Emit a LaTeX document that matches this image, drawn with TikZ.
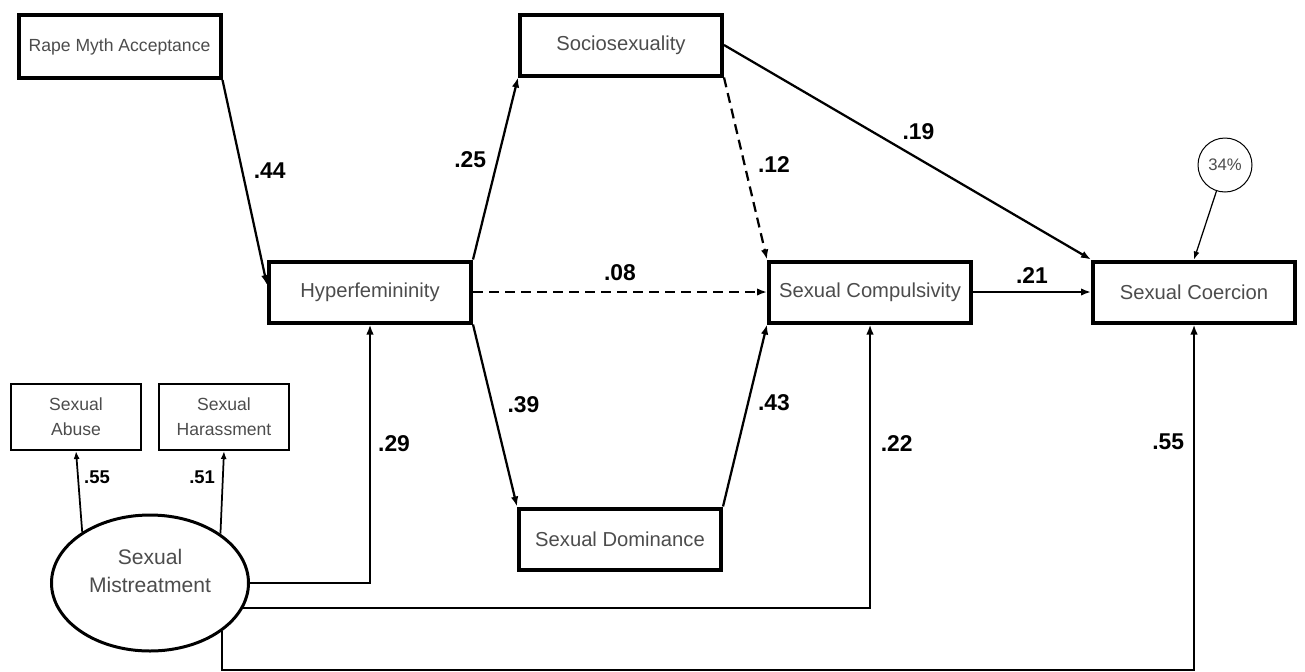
\documentclass[tikz,border=0pt]{standalone}
\usepackage{fontspec}
\setmainfont{Liberation Sans}
\usetikzlibrary{arrows.meta}
\usetikzlibrary{positioning}
\usetikzlibrary{shapes.geometric}

\begin{document}
\begin{tikzpicture}[
        bigbox/.style={draw, line width=0.08cm, minimum width=4.04cm, minimum height=1.22cm, inner sep=0pt, text=black!70, font=\fontsize{11.5}{13}\selectfont},
        smallbox/.style={draw, line width=0.04cm, minimum width=2.6cm, minimum height=1.32cm, inner sep=0pt, align=center, text=black!70, font=\fontsize{10}{14}\selectfont},
        latent/.style={ellipse, draw, line width=0.06cm, minimum width=3.94cm, minimum height=2.72cm, inner sep=0pt, align=center, text=black!70, font=\fontsize{12}{16}\selectfont},
        resid/.style={circle, draw, line width=0.02cm, minimum size=1.08cm, inner sep=0pt, text=black!70, font=\fontsize{9.5}{11}\selectfont},
        arr/.style={-{Latex[length=2mm,width=1.5mm]}, line width=0.045cm},
        thin arr/.style={-{Latex[length=1.6mm,width=1.2mm]}, line width=0.035cm},
        ns/.style={dash pattern=on 2mm off 1.2mm},
        coef/.style={font=\bfseries\fontsize{13}{13}\selectfont, inner sep=2pt},
        small coef/.style={font=\bfseries\fontsize{10.5}{11}\selectfont, inner sep=2pt}
    ]
    \useasboundingbox (0,0) rectangle (26.10,-13.42);

    \node[bigbox] (hyp) at (7.40,-5.84) {Hyperfemininity};
    \node[bigbox] (comp) [right=5.88cm of hyp] {Sexual Compulsivity};
    \node[bigbox] (coer) [right=2.36cm of comp] {Sexual Coercion};
    \node[bigbox, minimum height=1.26cm, font=\fontsize{10}{12}\selectfont] (rma) at (2.39,-0.93) {Rape Myth Acceptance};
    \node[bigbox] (soc) at (12.42,-0.90) {Sociosexuality};
    \node[bigbox] (dom) at (12.40,-10.78) {Sexual Dominance};
    \node[smallbox] (abuse) at (1.52,-8.34) {Sexual\\Abuse};
    \node[smallbox] (harass) [right=0.32cm of abuse] {Sexual\\Harassment};
    \node[latent] (mis) at (3.00,-11.66) {Sexual\\Mistreatment\\[-2.4pt]\mbox{}};
    \node[resid] (rsq) at (24.50,-3.30) {34\%};
    \coordinate (low) at (0,-13.40);

    \path[arr]
        (rma.south east) edge node[coef, right=4pt, pos=0.44] {.44} ([yshift=0.14cm]hyp.west)
        (hyp.north east) edge node[coef, left=4pt, pos=0.55] {.25} (soc.south west)
        (hyp.south east) edge node[coef, right=6pt, pos=0.44] {.39} (dom.north west)
        (dom.north east) edge node[coef, right=3pt, pos=0.57] {.43} (comp.south west)
        (soc.south east) edge[ns] node[coef, right=5pt, pos=0.48] {.12} (comp.north west)
        (hyp.east) edge[ns] node[coef, above=4pt] {.08} (comp.west)
        (soc.east) edge node[coef, above=8pt, pos=0.53] {.19} (coer.north west)
        (comp.east) edge node[coef, above=2pt] {.21} (coer.west);

    \draw[thin arr, line width=0.025cm] (rsq) -- (coer.north);
    \draw[thin arr] (mis.143) -- node[small coef, right=1pt, pos=0.68] {.55} (abuse.south);
    \draw[thin arr] (mis.35) -- node[small coef, left=2pt, pos=0.68] {.51} (harass.south);

    \draw[arr] (mis.east) -| node[coef, right=2pt, pos=0.77] {.29} (hyp.south);
    \draw[arr] (mis.-15.7) -| node[coef, right=3.5pt, pos=0.79] {.22} (comp.south);
    \draw[arr] (mis.-34.6) -- (mis.-34.6 |- low) -| node[coef, left=3pt, pos=0.83] {.55} (coer.south);
\end{tikzpicture}
\end{document}
